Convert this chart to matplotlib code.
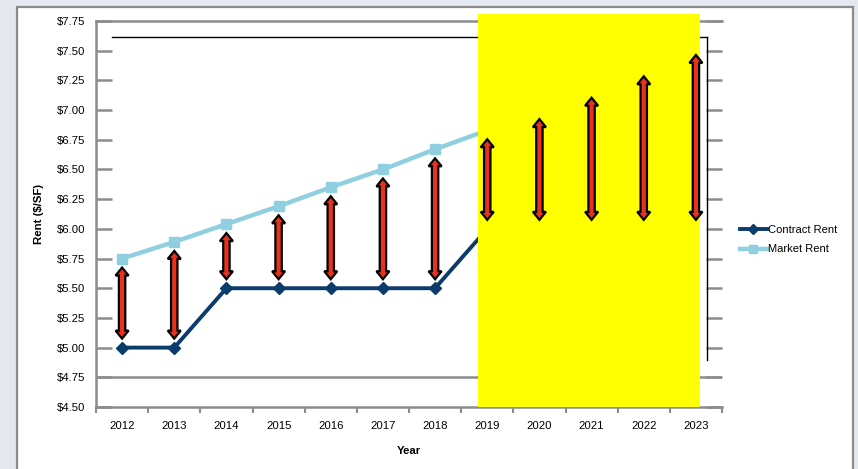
import matplotlib
matplotlib.use("Agg")
import matplotlib.pyplot as plt
from matplotlib.patches import Polygon, Rectangle
from matplotlib.lines import Line2D
import numpy as np

plt.rcParams['font.family'] = ['Liberation Sans', 'DejaVu Sans']

years = [2012, 2013, 2014, 2015, 2016, 2017, 2018, 2019, 2020, 2021, 2022, 2023]
contract_rent = [5.00, 5.00, 5.50, 5.50, 5.50, 5.50, 5.50, 6.00, 6.00, 6.00, 6.00, 6.00]
market_rent = [5.75, 5.89, 6.04, 6.19, 6.35, 6.50, 6.67, 6.83, 7.00, 7.18, 7.36, 7.54]
y_ticks = [4.50, 4.75, 5.00, 5.25, 5.50, 5.75, 6.00, 6.25, 6.50, 6.75, 7.00, 7.25, 7.50, 7.75]

navy = '#0b3c6b'
light_blue = '#8fcfe0'
gray = '#8c8c8c'
W, H = 858, 469

fig = plt.figure(figsize=(W / 100, H / 100), dpi=100)
fig.patch.set_facecolor('#e3e8f1')
fig.patches.append(Rectangle((17 / W, -0.05), (853 - 17) / W, (H - 7) / H + 0.05,
                             transform=fig.transFigure, facecolor='white',
                             edgecolor='#8a8a8a', linewidth=1.6, zorder=-1))

ax = fig.add_axes([96 / W, (H - 407) / H, (722 - 96) / W, (407 - 21) / H])
x = np.arange(len(years))

l1, = ax.plot(x, contract_rent, color=navy, lw=2.8, marker='D', ms=6.5, zorder=2,
              label='Contract Rent')
l2, = ax.plot(x, market_rent, color=light_blue, lw=3.2, marker='s', ms=7.5, zorder=2,
              label='Market Rent')

ax.set_xlim(-0.5, len(years) - 0.5)
ax.set_ylim(4.50, 7.75)

# highlight box for forecast years
hl_left, hl_right, hl_top = 6.82, 11.07, 7.81
ax.add_patch(Rectangle((hl_left, 4.50), hl_right - hl_left, hl_top - 4.50,
                       facecolor='#ffff00', edgecolor='none', zorder=3, clip_on=False))

# series stay hidden behind the highlight (nothing sticks out on the right)
clip = Rectangle((-0.5, 4.4), hl_right + 0.45, 3.5, transform=ax.transData)
for ln in (l1, l2):
    ln.set_clip_path(clip)

# stray outline lines
ax.plot([-0.19, 11.21], [7.615, 7.615], color='black', lw=1, zorder=2.8, clip_on=False)
ax.plot([11.21, 11.21], [4.897, 7.615], color='black', lw=1, zorder=2.8, clip_on=False)

ax.axhline(4.75, color=gray, lw=1.8, zorder=1)

for side in ['left', 'top', 'bottom']:
    ax.spines[side].set_color(gray)
    ax.spines[side].set_linewidth(1.8)
ax.spines['right'].set_visible(False)

ax.set_yticks(y_ticks)
ax.set_yticklabels([f'${v:.2f}' for v in y_ticks], fontsize=8.2)
ax.tick_params(axis='y', direction='in', length=11.5, width=1.8, color=gray,
               right=True, pad=8)
ax.set_xticks(x)
ax.set_xticklabels([str(y) for y in years], fontsize=8.2)
ax.set_xticks(np.arange(-0.5, len(years), 1), minor=True)
ax.tick_params(axis='x', which='major', length=0, pad=10)
ax.tick_params(axis='x', which='minor', direction='out', length=4, width=1.5, color=gray)

ax.set_ylabel('Rent ($/SF)', fontsize=8.2, fontweight='bold', labelpad=9)
ax.set_xlabel('Year', fontsize=8.2, fontweight='bold', labelpad=11)

# double headed block arrows between contract and market rent
gap = 9
shaft = 3.2
head_w = 6.5
head_l = 8
to_disp = ax.transData.transform
for i in range(len(years)):
    xb, yb = to_disp((x[i], contract_rent[i]))
    _, yt = to_disp((x[i], market_rent[i]))
    yb += gap
    yt -= gap
    verts = [
        (xb, yb),
        (xb + head_w, yb + head_l),
        (xb + shaft, yb + head_l),
        (xb + shaft, yt - head_l),
        (xb + head_w, yt - head_l),
        (xb, yt),
        (xb - head_w, yt - head_l),
        (xb - shaft, yt - head_l),
        (xb - shaft, yb + head_l),
        (xb - head_w, yb + head_l),
    ]
    ax.add_patch(Polygon(verts, closed=True, transform=None, facecolor='#e8321e',
                         edgecolor='black', linewidth=1.6, zorder=5, clip_on=False))

handles = [
    Line2D([], [], color=navy, lw=2.8, marker='D', ms=5),
    Line2D([], [], color=light_blue, lw=3.2, marker='s', ms=6),
]
fig.legend(handles, ['Contract Rent', 'Market Rent'], loc='upper left',
           bbox_to_anchor=(740 / W, 1 - 225 / H), frameon=False, fontsize=8,
           handlelength=2.4, handletextpad=0.15, labelspacing=0.85,
           borderaxespad=0, borderpad=0)

fig.savefig('out.png', dpi=100, facecolor=fig.get_facecolor())
